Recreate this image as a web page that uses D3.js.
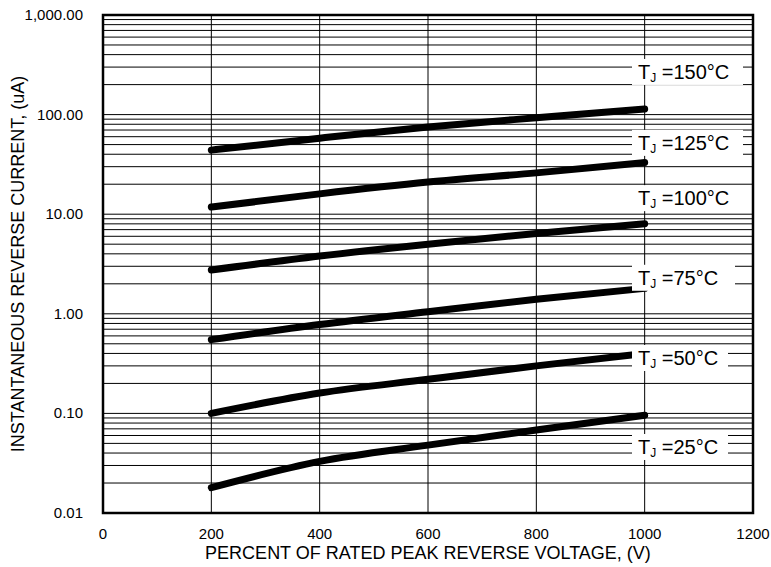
<html lang="en">
  <head>
    <title>reverse current</title>
    <script src="https://d3js.org/d3.v7.min.js"></script>
    <style>
      body { margin: 0; background: #fff; }
      svg text { font-family: Arial, 'Liberation Sans', sans-serif; fill: #000; }
    </style>
  </head>
  <body>
    <svg id="chart" width="771" height="567"></svg>
    <script>
      // percent of rated voltage
      const voltages = [200, 400, 600, 800, 1000]

      // current (uA) per junction temperature
      const temps = ['150', '125', '100', '75', '50', '25']
      const i150 = [44, 58, 75, 93, 114]
      const i125 = [11.8, 16, 21, 26, 33]
      const i100 = [2.75, 3.8, 5.0, 6.4, 8.0]
      const i75 = [0.55, 0.78, 1.05, 1.4, 1.8]
      const i50 = [0.10, 0.16, 0.22, 0.30, 0.40]
      const i25 = [0.018, 0.033, 0.048, 0.068, 0.096]
      const series = [i150, i125, i100, i75, i50, i25]

      // label centre (current value where label sits)
      const labelAt = [268, 52, 14.5, 2.3, 0.36, 0.046]

      const xTicks = [0, 200, 400, 600, 800, 1000, 1200]
      const yTicks = [0.01, 0.1, 1, 10, 100, 1000]

      const svg = d3.select('#chart')
      const mLeft = 103, mRight = 753, mTop = 15, mBottom = 513

      const x = d3.scaleLinear().domain([0, 1200]).range([mLeft, mRight])
      const y = d3.scaleLog().domain([0.01, 1000]).range([mBottom, mTop])

      // horizontal grid
      let minors = []
      for (let d = 0.01; d < 1000; d *= 10) {
        for (let k = 1; k < 10; k++) minors.push(+(d * k).toPrecision(3))
      }
      svg.append('g').selectAll('line')
        .data(minors).join('line')
        .attr('x1', mLeft).attr('x2', mRight)
        .attr('y1', d => y(d)).attr('y2', d => y(d))
        .attr('stroke', '#000').attr('stroke-width', 1)

      // vertical grid
      svg.append('g').selectAll('line')
        .data(xTicks.slice(1, -1)).join('line')
        .attr('x1', d => x(d)).attr('x2', d => x(d))
        .attr('y1', mTop).attr('y2', mBottom)
        .attr('stroke', '#000').attr('stroke-width', 1)

      // curves
      const line = d3.line()
        .x((d, i) => x(voltages[i]))
        .y(d => y(d))
        .curve(d3.curveMonotoneX)

      svg.append('g').selectAll('path')
        .data(series).join('path')
        .attr('d', line)
        .attr('fill', 'none')
        .attr('stroke', '#000')
        .attr('stroke-width', 7)
        .attr('stroke-linecap', 'round')

      // labels with white boxes
      const boxW = [111, 111, 111, 103, 96, 96]
      const lab = svg.append('g').selectAll('g')
        .data(temps).join('g')
        .attr('transform', (d, i) => `translate(632,${y(labelAt[i])})`)
      lab.append('rect')
        .attr('x', 0).attr('y', -13)
        .attr('width', (d, i) => boxW[i]).attr('height', 26)
        .attr('fill', '#fff')
      const txt = lab.append('text')
        .attr('x', 6).attr('y', 7)
        .style('font-size', '20px')
      txt.append('tspan').text('T')
      txt.append('tspan').attr('dy', 3).style('font-size', '12px').text('J')
      txt.append('tspan').attr('dy', -3).text(d => ` =${d}°C`)

      // frame
      svg.append('rect')
        .attr('x', mLeft).attr('y', mTop)
        .attr('width', mRight - mLeft).attr('height', mBottom - mTop)
        .attr('fill', 'none').attr('stroke', '#000').attr('stroke-width', 2.5)

      // tick labels
      svg.append('g').selectAll('text')
        .data(yTicks).join('text')
        .attr('x', 83).attr('y', d => y(d) + 5)
        .attr('text-anchor', 'end')
        .style('font-size', '15px')
        .text(d => d3.format(',.2f')(d))

      svg.append('g').selectAll('text')
        .data(xTicks).join('text')
        .attr('x', d => x(d)).attr('y', 539)
        .attr('text-anchor', 'middle')
        .style('font-size', '15px')
        .text(d => d)

      svg.append('text')
        .attr('x', (mLeft + mRight) / 2).attr('y', 559)
        .attr('text-anchor', 'middle')
        .style('font-size', '18px')
        .text('PERCENT OF RATED PEAK REVERSE VOLTAGE, (V)')

      svg.append('text')
        .attr('transform', `translate(24,${(mTop + mBottom) / 2}) rotate(-90)`)
        .attr('text-anchor', 'middle')
        .style('font-size', '18px')
        .text('INSTANTANEOUS REVERSE CURRENT, (uA)')
    </script>
  </body>
</html>
